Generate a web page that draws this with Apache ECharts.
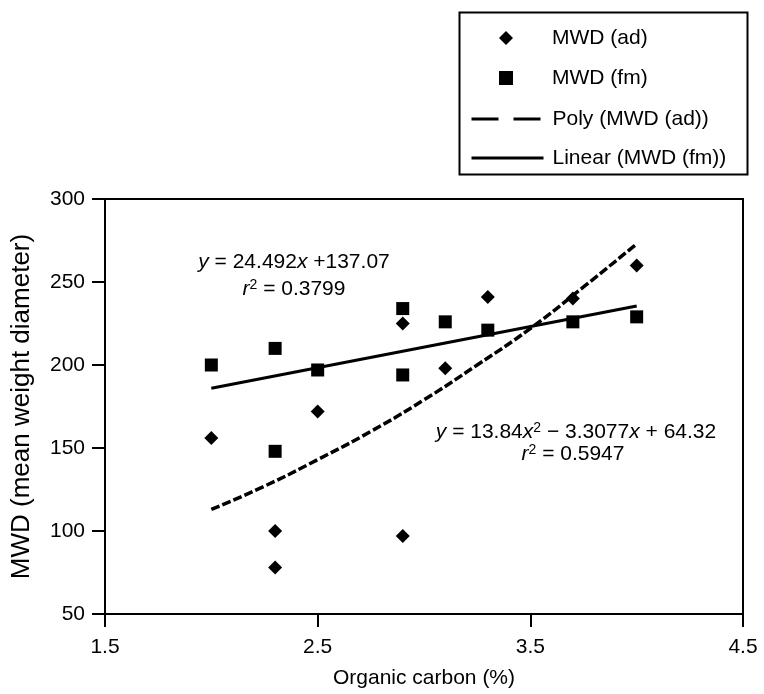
<!DOCTYPE html>
<html>
<head>
<meta charset="utf-8">
<script src="https://cdn.jsdelivr.net/npm/echarts@6/dist/echarts.min.js"></script>
<style>
html,body{margin:0;padding:0;background:#fff;}
#chart{width:764px;height:694px;}
</style>
</head>
<body>
<div id="chart"></div>
<script>
// ---- data ----
const adX = [2.0, 2.3, 2.3, 2.5, 2.9, 2.9, 3.1, 3.3, 3.7, 4.0];
const adY = [156, 100, 78, 172, 225, 97, 198, 241, 240, 260];
const fmX = [2.0, 2.3, 2.3, 2.5, 2.9, 2.9, 3.1, 3.3, 3.7, 4.0];
const fmY = [200, 210, 148, 197, 234, 194, 226, 221, 226, 229];
const polyX = [2.0, 2.25, 2.5, 2.75, 3.0, 3.25, 3.5, 3.75, 4.0];
const polyY = [113, 127, 143, 160, 179, 200, 222, 247, 273];
const linX = [2.0, 4.0];
const linY = [186, 235.5];
const xTicks = [1.5, 2.5, 3.5, 4.5];
const seriesNames = ['MWD (ad)', 'MWD (fm)', 'Poly (MWD (ad))', 'Linear (MWD (fm))'];

const zip = (xs, ys) => xs.map((x, i) => [x, ys[i]]);
const FONT = 'Liberation Sans, Arial, Helvetica, sans-serif';
const FS = 21;

const chart = echarts.init(document.getElementById('chart'), null, {renderer: 'canvas'});
chart.setOption({
  backgroundColor: '#ffffff',
  animation: false,
  textStyle: {fontFamily: FONT, color: '#000'},
  grid: {
    left: 105, top: 199, width: 638, height: 421,
    show: true, borderColor: '#000', borderWidth: 2, backgroundColor: 'transparent'
  },
  xAxis: {
    type: 'value', min: 1.5, max: 4.5, interval: 1,
    name: 'Organic carbon (%)', nameLocation: 'middle', nameGap: 54,
    nameTextStyle: {fontSize: FS, color: '#000', fontFamily: FONT},
    axisLine: {show: true, onZero: false, lineStyle: {color: '#000', width: 2}},
    axisTick: {show: true, length: 13, inside: false, customValues: xTicks, lineStyle: {color: '#000', width: 2}},
    axisLabel: {margin: 23, fontSize: FS, color: '#000', fontFamily: FONT, customValues: xTicks,
      formatter: v => v.toFixed(1)},
    splitLine: {show: false}
  },
  yAxis: {
    type: 'value', min: 50, max: 300, interval: 50,
    name: 'MWD (mean weight diameter)', nameLocation: 'middle', nameGap: 70,
    nameTextStyle: {fontSize: 26, color: '#000', fontFamily: FONT},
    axisLine: {show: true, onZero: false, lineStyle: {color: '#000', width: 2}},
    axisTick: {show: true, length: 13, inside: false, lineStyle: {color: '#000', width: 2}},
    axisLabel: {margin: 20, fontSize: FS, color: '#000', fontFamily: FONT},
    splitLine: {show: false}
  },
  legend: [
    {
      data: [seriesNames[0], seriesNames[1]],
      orient: 'vertical', left: 494, top: 21,
      itemWidth: 14, itemHeight: 14, itemGap: 16,
      textStyle: {fontSize: FS, color: '#000', fontFamily: FONT, lineHeight: 24, padding: [0, 0, 0, 34]},
      selectedMode: false
    },
    {
      data: [
        {name: seriesNames[2], itemStyle: {opacity: 0}, lineStyle: {type: [27, 15], width: 3, color: '#000'}},
        {name: seriesNames[3], itemStyle: {opacity: 0}, lineStyle: {type: 'solid', width: 3, color: '#000'}}
      ],
      orient: 'vertical', left: 465, top: 102,
      itemWidth: 72, itemHeight: 12, itemGap: 15,
      textStyle: {fontSize: FS, color: '#000', fontFamily: FONT, lineHeight: 24, padding: [0, 0, 0, 4]},
      selectedMode: false
    }
  ],
  graphic: [
    {type: 'rect', left: 457, top: 10, shape: {width: 288, height: 162},
      style: {fill: 'none', stroke: '#000', lineWidth: 2}, silent: true, z: 100},
    {type: 'text', z: 100,
      style: {
        x: 294, y: 262, align: 'center', verticalAlign: 'middle',
        text: '{i|y} = 24.492{i|x} +137.07',
        fontSize: FS, fontFamily: FONT, fill: '#000',
        rich: {i: {fontStyle: 'italic', fontSize: FS, fontFamily: FONT}}
      }
    },
    {type: 'text', z: 100,
      style: {
        x: 294, y: 289, align: 'center', verticalAlign: 'middle',
        text: '{i|r}{s|2} = 0.3799',
        fontSize: FS, fontFamily: FONT, fill: '#000',
        rich: {i: {fontStyle: 'italic', fontSize: FS, fontFamily: FONT},
               s: {fontSize: 14, fontFamily: FONT, verticalAlign: 'top', lineHeight: 22}}
      }
    },
    {type: 'text', z: 100,
      style: {
        x: 576, y: 432, align: 'center', verticalAlign: 'middle',
        text: '{i|y} = 13.84{i|x}{s|2} \u2212 3.3077{i|x} + 64.32',
        fontSize: FS, fontFamily: FONT, fill: '#000',
        rich: {i: {fontStyle: 'italic', fontSize: FS, fontFamily: FONT},
               s: {fontSize: 14, fontFamily: FONT, verticalAlign: 'top', lineHeight: 22}}
      }
    },
    {type: 'text', z: 100,
      style: {
        x: 573, y: 454, align: 'center', verticalAlign: 'middle',
        text: '{i|r}{s|2} = 0.5947',
        fontSize: FS, fontFamily: FONT, fill: '#000',
        rich: {i: {fontStyle: 'italic', fontSize: FS, fontFamily: FONT},
               s: {fontSize: 14, fontFamily: FONT, verticalAlign: 'top', lineHeight: 22}}
      }
    }
  ],
  series: [
    {
      name: seriesNames[0], type: 'scatter', symbol: 'diamond', symbolSize: 14,
      itemStyle: {color: '#000', opacity: 1}, data: zip(adX, adY), z: 5
    },
    {
      name: seriesNames[1], type: 'scatter', symbol: 'rect', symbolSize: 13,
      itemStyle: {color: '#000', opacity: 1}, data: zip(fmX, fmY), z: 5
    },
    {
      name: seriesNames[2], type: 'line', smooth: true, symbol: 'none', showSymbol: false,
      lineStyle: {color: '#000', width: 3.5, type: [9, 3]}, itemStyle: {color: '#000'},
      data: zip(polyX, polyY), z: 4
    },
    {
      name: seriesNames[3], type: 'line', symbol: 'none', showSymbol: false,
      lineStyle: {color: '#000', width: 3, type: 'solid'}, itemStyle: {color: '#000'},
      data: zip(linX, linY), z: 4
    }
  ]
});
</script>
</body>
</html>
